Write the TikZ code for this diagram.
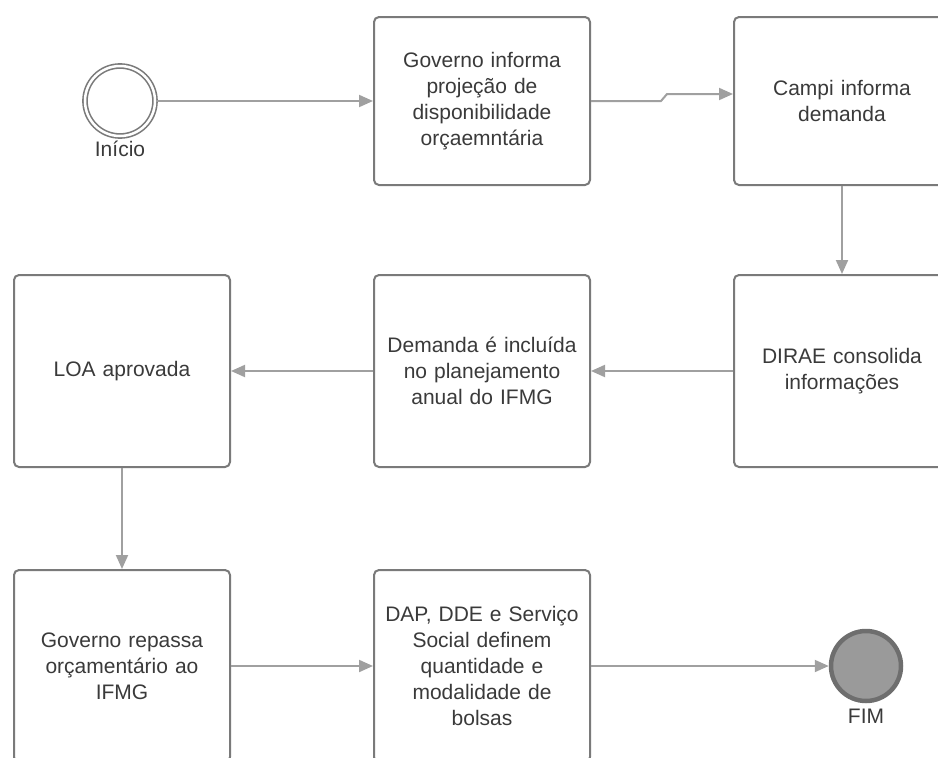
\documentclass[tikz,border=0pt]{standalone}
\usepackage{fontspec}
\setmainfont{Liberation Sans}
\usetikzlibrary{arrows.meta,positioning}
\definecolor{linegray}{HTML}{A0A0A0}
\definecolor{boxgray}{HTML}{7A7A7A}
\definecolor{txtgray}{HTML}{3A3A3A}
\definecolor{endfill}{HTML}{9A9A9A}
\definecolor{endring}{HTML}{6E6E6E}

\begin{document}
\begin{tikzpicture}[
  x=1pt, y=1pt,
  font=\fontsize{21}{26}\selectfont, text=txtgray,
  task/.style={draw=boxgray, line width=2pt, rounded corners=5pt, fill=white, minimum width=216pt, text width=212pt, align=center, inner sep=0pt},
  taskA/.style={task, minimum height=168pt},
  taskB/.style={task, minimum height=192pt},
  startev/.style={circle, draw=boxgray, double=white, double distance=2.5pt, line width=1.6pt, minimum size=70pt, inner sep=0pt},
  endev/.style={circle, draw=endring, fill=endfill, line width=4.5pt, minimum size=70pt, inner sep=0pt},
  flow/.style={draw=linegray, line width=2pt, -{Triangle[length=14pt,width=12pt]}}
]
\clip (0,0) rectangle (938,-758);

% ---- Row 1: start and first tasks ----
\node[startev] (ini) at (120,-101) {};
\node (lini) at (120,-149) {Início};
\node[taskA] (gov) at (482,-101) {Governo informa\\ projeção de\\ disponibilidade\\ orçaemntária};
\node[taskA] (campi) at (842,-101) {Campi informa\\ demanda};

\draw[flow] (ini) -- (gov);
\draw[flow] (gov.east) -- ++(70,0) -- ++(6,7) -- ([yshift=7pt]campi.west);

% ---- Row 2: consolidation ----
\node[taskB] (dirae) at (842,-371) {DIRAE consolida\\ informações};
\node[taskB] (plan) at (482,-371) {Demanda é incluída\\ no planejamento\\ anual do IFMG};
\node[taskB] (loa) at (122,-371) {LOA aprovada};

\draw[flow] (campi) -- (dirae);
\draw[flow] (dirae) -- (plan);
\draw[flow] (plan) -- (loa);

% ---- Row 3: transfer and end ----
\node[taskB] (repassa) at (122,-666) {Governo repassa\\ orçamentário ao\\ IFMG};
\node[taskB] (bolsas) at (482,-666) {DAP, DDE e Serviço\\ Social definem\\ quantidade e\\ modalidade de\\ bolsas};
\node[endev] (fim) at (866,-666) {};
\node (lfim) at (866,-716) {FIM};

\draw[flow] (loa) -- (repassa);
\draw[flow] (repassa) -- (bolsas);
\draw[flow] (bolsas) -- (fim);

\end{tikzpicture}
\end{document}
